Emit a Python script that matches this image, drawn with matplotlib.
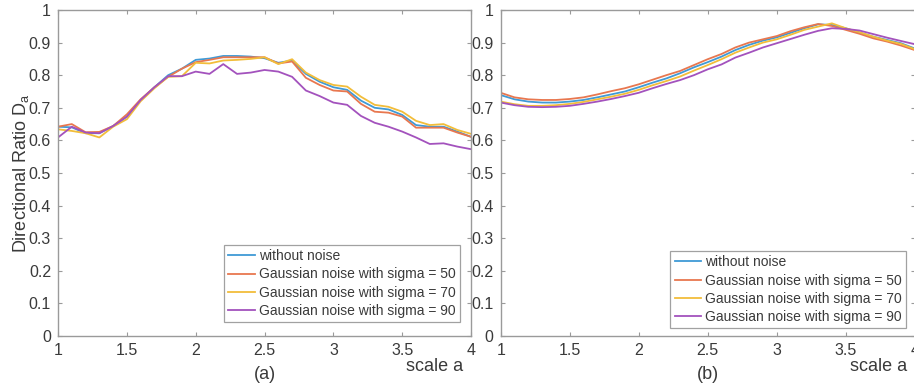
import numpy as np
import matplotlib
matplotlib.use("Agg")
import matplotlib.pyplot as plt
from matplotlib.ticker import FormatStrFormatter

plt.rcParams['font.family'] = ['Liberation Sans', 'DejaVu Sans']
plt.rcParams['mathtext.fontset'] = 'custom'
plt.rcParams['mathtext.rm'] = 'Liberation Sans'

## Data: scale a from 1 to 4, step 0.1
scale = [1.0, 1.1, 1.2, 1.3, 1.4, 1.5, 1.6, 1.7, 1.8, 1.9, 2.0, 2.1, 2.2, 2.3, 2.4, 2.5,
         2.6, 2.7, 2.8, 2.9, 3.0, 3.1, 3.2, 3.3, 3.4, 3.5, 3.6, 3.7, 3.8, 3.9, 4.0]

# panel (a)
a_no_noise = [0.642, 0.640, 0.622, 0.622, 0.644, 0.673, 0.724, 0.763, 0.800, 0.820, 0.847,
              0.851, 0.859, 0.859, 0.857, 0.852, 0.838, 0.845, 0.804, 0.780, 0.763, 0.755,
              0.722, 0.700, 0.695, 0.678, 0.647, 0.642, 0.642, 0.627, 0.611]
a_sigma50 = [0.642, 0.650, 0.625, 0.626, 0.644, 0.680, 0.726, 0.763, 0.795, 0.820, 0.840,
             0.847, 0.855, 0.855, 0.855, 0.855, 0.836, 0.842, 0.792, 0.770, 0.753, 0.750,
             0.712, 0.688, 0.685, 0.673, 0.639, 0.639, 0.639, 0.624, 0.611]
a_sigma70 = [0.634, 0.629, 0.622, 0.609, 0.642, 0.665, 0.720, 0.760, 0.795, 0.797, 0.838,
             0.836, 0.845, 0.847, 0.850, 0.855, 0.834, 0.849, 0.808, 0.785, 0.770, 0.765,
             0.734, 0.709, 0.703, 0.688, 0.660, 0.647, 0.650, 0.632, 0.620]
a_sigma90 = [0.609, 0.642, 0.624, 0.622, 0.644, 0.673, 0.724, 0.763, 0.797, 0.797, 0.811,
             0.804, 0.834, 0.804, 0.808, 0.816, 0.811, 0.795, 0.753, 0.736, 0.716, 0.709,
             0.675, 0.654, 0.642, 0.627, 0.609, 0.589, 0.591, 0.581, 0.573]

# panel (b)
b_no_noise = [0.739, 0.726, 0.719, 0.716, 0.716, 0.719, 0.724, 0.732, 0.741, 0.750, 0.763,
              0.777, 0.790, 0.806, 0.824, 0.840, 0.857, 0.877, 0.893, 0.906, 0.916, 0.930,
              0.944, 0.956, 0.954, 0.944, 0.930, 0.918, 0.908, 0.898, 0.882]
b_sigma50 = [0.746, 0.732, 0.726, 0.724, 0.724, 0.727, 0.732, 0.741, 0.751, 0.760, 0.772,
             0.786, 0.800, 0.813, 0.831, 0.849, 0.865, 0.885, 0.900, 0.910, 0.920, 0.935,
             0.947, 0.957, 0.951, 0.939, 0.927, 0.913, 0.903, 0.891, 0.877]
b_sigma70 = [0.719, 0.711, 0.706, 0.706, 0.708, 0.712, 0.718, 0.726, 0.734, 0.743, 0.755,
             0.769, 0.782, 0.796, 0.814, 0.831, 0.849, 0.869, 0.885, 0.900, 0.910, 0.924,
             0.939, 0.949, 0.959, 0.944, 0.932, 0.918, 0.906, 0.896, 0.880]
b_sigma90 = [0.716, 0.708, 0.703, 0.702, 0.703, 0.706, 0.712, 0.719, 0.727, 0.736, 0.746,
             0.760, 0.773, 0.785, 0.800, 0.818, 0.833, 0.854, 0.869, 0.885, 0.898, 0.911,
             0.924, 0.936, 0.944, 0.942, 0.937, 0.926, 0.915, 0.905, 0.895]

labels = ['without noise', 'Gaussian noise with sigma = 50',
          'Gaussian noise with sigma = 70', 'Gaussian noise with sigma = 90']
colors = ['#3f9ad6', '#e8774f', '#f2bd3a', '#a352bd']

text_col = '#3a3a3a'
spine_col = '#9a9a9a'


def draw_panel(ax, series, legend_anchor, panel_name):
    for vals, lab, col in zip(series, labels, colors):
        ax.plot(scale, vals, color=col, lw=1.3, label=lab)
    ax.set_xlim(1, 4)
    ax.set_ylim(0, 1)
    ax.set_xticks(np.arange(1, 4.01, 0.5))
    ax.set_yticks(np.arange(0, 1.01, 0.1))
    ax.xaxis.set_major_formatter(FormatStrFormatter('%g'))
    ax.yaxis.set_major_formatter(FormatStrFormatter('%g'))
    ax.tick_params(direction='in', top=True, right=True, length=3, width=0.8,
                   color=spine_col, labelcolor=text_col, labelsize=11.5, pad=5)
    for sp in ax.spines.values():
        sp.set_color(spine_col)
        sp.set_linewidth(1.0)
    leg = ax.legend(loc='lower right', bbox_to_anchor=legend_anchor, fontsize=10,
                    frameon=True, fancybox=False, handlelength=1.9, handletextpad=0.3,
                    labelspacing=0.3, borderpad=0.3, borderaxespad=0)
    leg.get_frame().set_edgecolor('#8a8a8a')
    leg.get_frame().set_linewidth(0.9)
    for t in leg.get_texts():
        t.set_color(text_col)
    ax.text(0.981, -0.095, 'scale a', transform=ax.transAxes, ha='right', va='center',
            fontsize=13, color=text_col)
    ax.text(0.5, -0.118, panel_name, transform=ax.transAxes, ha='center', va='center',
            fontsize=13, color=text_col)


fig = plt.figure(figsize=(9.14, 3.87), dpi=100)
ax1 = fig.add_axes([0.0635, 0.1318, 0.4519, 0.8424])
ax2 = fig.add_axes([0.5478, 0.1318, 0.4530, 0.8424])

draw_panel(ax1, [a_no_noise, a_sigma50, a_sigma70, a_sigma90], (0.973, 0.043), '(a)')
draw_panel(ax2, [b_no_noise, b_sigma50, b_sigma70, b_sigma90], (0.979, 0.0245), '(b)')

ax1.set_ylabel(r'Directional Ratio D$_\mathrm{a}$', fontsize=13, color=text_col)
ax1.yaxis.set_label_coords(-0.066, 0.5)

fig.savefig('out.png', dpi=100)
